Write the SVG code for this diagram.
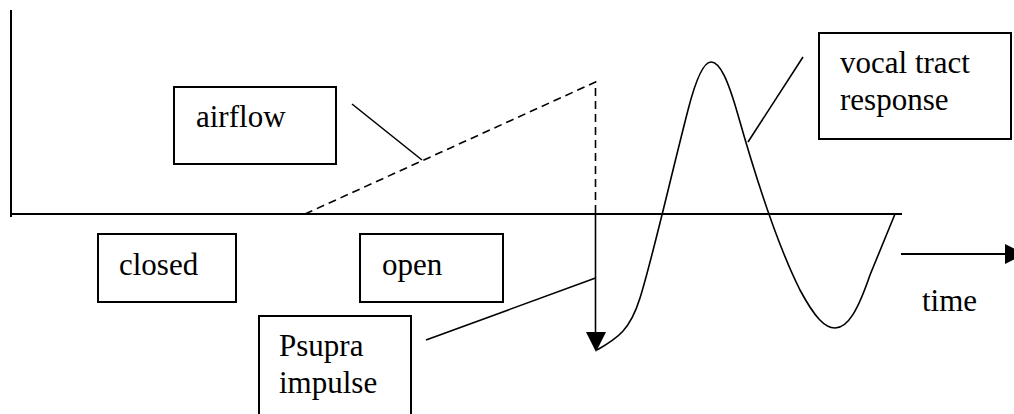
<svg xmlns="http://www.w3.org/2000/svg" width="1014" height="414" viewBox="0 0 1014 414">
<style>
.box{fill:#fff;stroke:#000;stroke-width:2}
.ln{fill:none;stroke:#000;stroke-width:1.6}
.ax{fill:none;stroke:#000;stroke-width:2}
.dash{fill:none;stroke:#000;stroke-width:1.6;stroke-dasharray:8 5}
.lbl{font-family:"Liberation Serif",Tinos,"Times New Roman",Times,"Nimbus Roman","Nimbus Roman No9 L","FreeSerif","Noto Serif","DejaVu Serif",serif;font-size:31px;fill:#000}
</style>
<rect width="1014" height="414" fill="#fff"/>
<g id="axes">
<line class="ax" x1="11" y1="10" x2="11" y2="217"/>
<line class="ax" x1="10" y1="214" x2="902" y2="214"/>
</g>
<g id="connectors">
<polyline class="dash" points="305,214 595.5,82 595.5,214"/>
<line class="ln" x1="352" y1="104" x2="422" y2="160"/>
<line class="ln" x1="595.5" y1="214" x2="595.5" y2="334"/>
<polygon points="586,332 606,332 596,352" fill="#000"/>
<line class="ln" x1="426" y1="340" x2="595.5" y2="278"/>
<path class="ln" d="M597,350 C618,338 630,330 640,298 C652,260 670,180 688,110 C697,75 705,62 711,62 C720,62 728,80 738,115 C755,175 775,240 800,290 C815,318 825,328 835,328 C848,328 858,310 870,275 L895,214"/>
<line class="ln" x1="803" y1="57" x2="748" y2="142"/>
<line class="ax" x1="901" y1="254" x2="1006" y2="254"/>
<polygon points="1005,244 1025,254 1005,264" fill="#000"/>
</g>
<g id="airflow">
<rect class="box" x="174" y="87" width="162" height="77"/>
<text class="lbl" x="196" y="127">airflow</text>
</g>
<g id="closed">
<rect class="box" x="98" y="234" width="138" height="68"/>
<text class="lbl" x="119" y="275">closed</text>
</g>
<g id="open">
<rect class="box" x="360" y="234" width="143" height="68"/>
<text class="lbl" x="382" y="275">open</text>
</g>
<g id="psupra">
<rect class="box" x="259" y="316" width="152" height="110"/>
<text class="lbl" x="279" y="356">Psupra</text>
<text class="lbl" x="279" y="393">impulse</text>
</g>
<g id="vocal">
<rect class="box" x="819" y="33" width="192" height="106"/>
<text class="lbl" x="840" y="73">vocal tract</text>
<text class="lbl" x="840" y="110">response</text>
</g>
<g id="time">
<text class="lbl" x="922" y="311">time</text>
</g>
</svg>
